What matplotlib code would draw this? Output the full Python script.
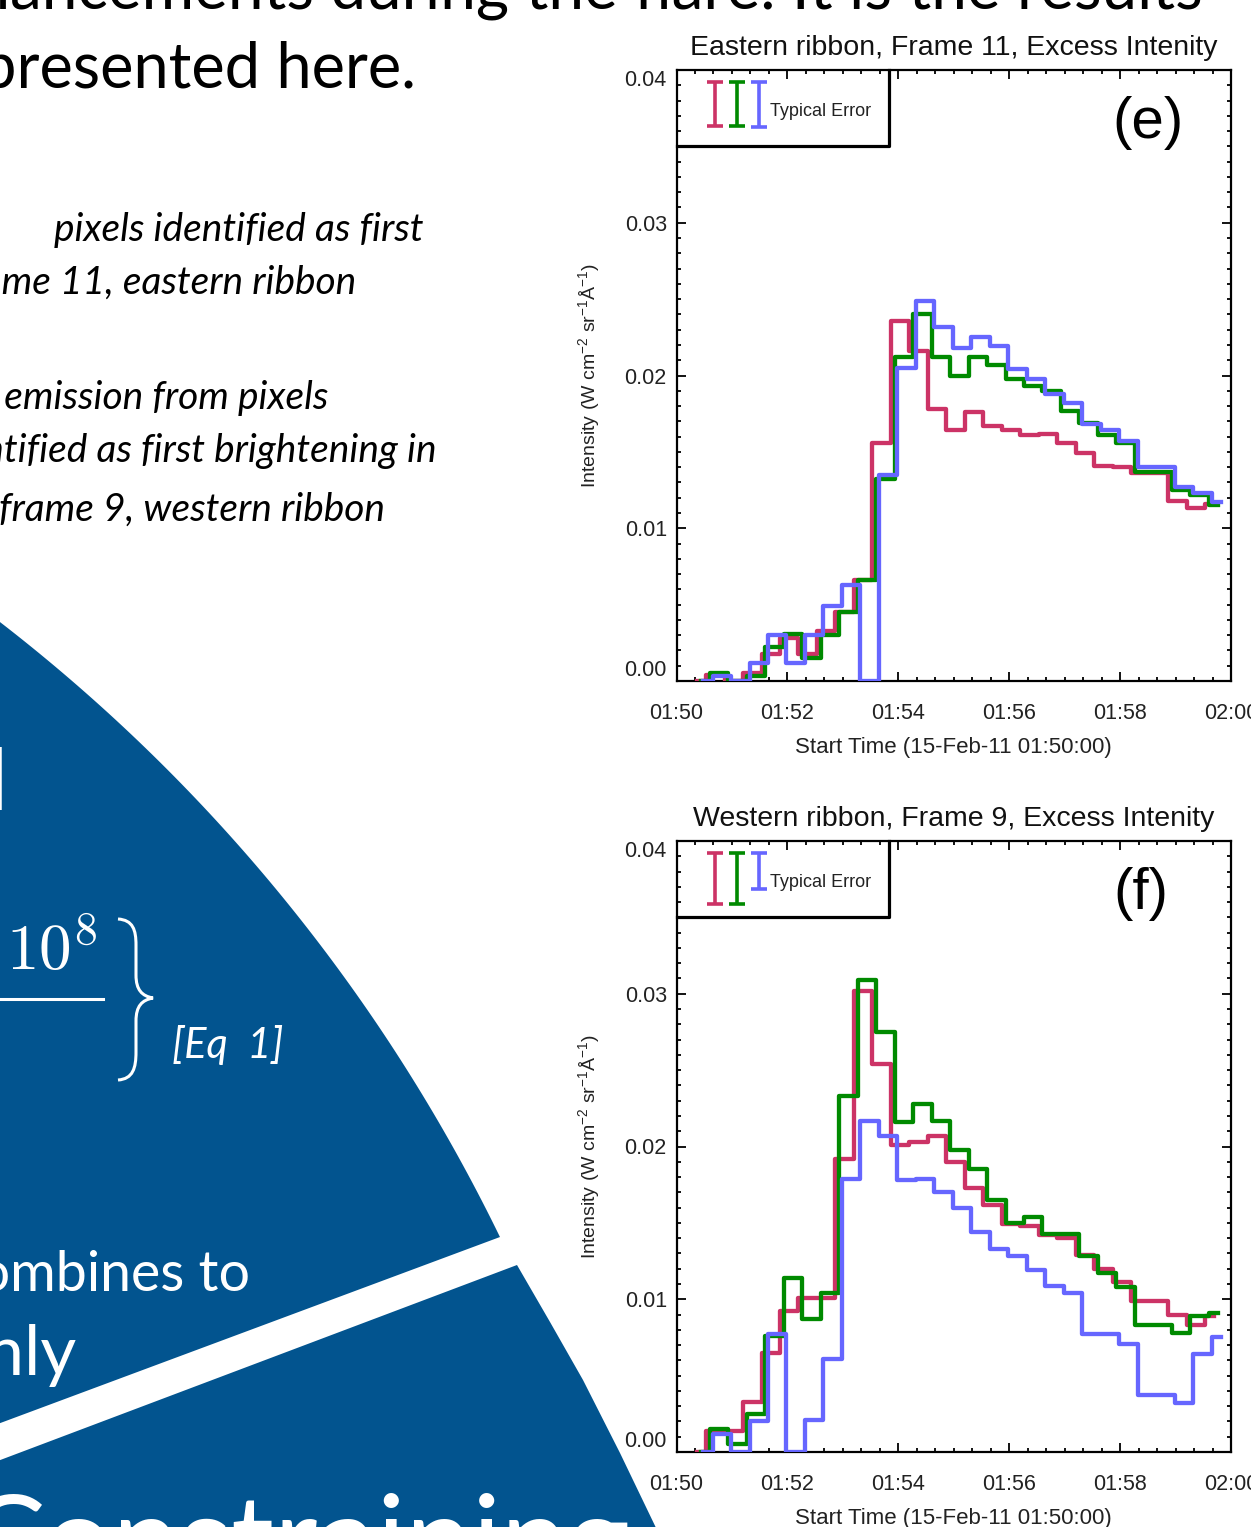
import matplotlib
matplotlib.use("Agg")
import matplotlib.pyplot as plt
import numpy as np
from matplotlib.patches import Polygon, PathPatch
from matplotlib.path import Path
from matplotlib.ticker import MultipleLocator, FuncFormatter
from matplotlib import font_manager

# sample times of the light curves, seconds after 01:50:00
sample_sec = [22, 42, 62, 82, 102, 122, 142, 162, 182, 202,
              222, 242, 262, 282, 302, 322, 342, 362, 382, 402,
              422, 442, 462, 482, 502, 522, 542, 562, 582]
# the three channels are taken a few seconds apart
chan_shift_sec = [0, 4, 7]
chan_colors = ['#CC3366', '#008A00', '#6666FF']

# (e) eastern ribbon, frame 11  (W cm-2 sr-1 A-1)
east_red = [0.0, 0.0004, 0.0, 0.0005, 0.0018, 0.0028, 0.0018, 0.0033, 0.0045, 0.0066,
            0.0156, 0.0236, 0.0216, 0.0178, 0.0164, 0.0176, 0.0167, 0.0164, 0.0161, 0.0162,
            0.0156, 0.0149, 0.0141, 0.0140, 0.0136, 0.0136, 0.0118, 0.0113, 0.0116]
east_green = [0.0, 0.00055, 0.0, 0.0003, 0.0022, 0.0031, 0.0015, 0.0030, 0.0045, 0.0066,
              0.0132, 0.0212, 0.0240, 0.0212, 0.0200, 0.0212, 0.0207, 0.0198, 0.0193, 0.0190,
              0.0177, 0.0169, 0.0161, 0.0156, 0.0137, 0.0137, 0.0125, 0.0122, 0.0115]
east_blue = [0.0, 0.0003, 0.0, 0.0012, 0.0030, 0.0012, 0.0030, 0.0049, 0.0063, 0.0,
             0.0135, 0.0205, 0.0249, 0.0232, 0.0218, 0.0225, 0.0219, 0.0204, 0.0198, 0.0188,
             0.0182, 0.0168, 0.0164, 0.0157, 0.0140, 0.0140, 0.0127, 0.0123, 0.0117]

# (f) western ribbon, frame 9
west_red = [0.0, 0.0014, 0.0014, 0.0033, 0.0065, 0.0092, 0.0101, 0.0101, 0.0192, 0.0302,
            0.0254, 0.0201, 0.0203, 0.0207, 0.0190, 0.0173, 0.0162, 0.0149, 0.0148, 0.0142,
            0.0140, 0.0129, 0.0120, 0.0111, 0.0099, 0.0099, 0.0090, 0.0083, 0.0089]
west_green = [0.0, 0.0015, 0.0005, 0.0025, 0.0076, 0.0114, 0.0087, 0.0104, 0.0233, 0.0309,
              0.0275, 0.0216, 0.0228, 0.0217, 0.0198, 0.0185, 0.0165, 0.0150, 0.0154, 0.0143,
              0.0143, 0.0128, 0.0117, 0.0108, 0.0083, 0.0083, 0.0078, 0.0089, 0.0091]
west_blue = [0.0, 0.0012, 0.0, 0.0020, 0.0077, 0.0, 0.0021, 0.0061, 0.0179, 0.0217,
             0.0207, 0.0178, 0.0179, 0.0170, 0.0160, 0.0144, 0.0133, 0.0128, 0.0119, 0.0109,
             0.0104, 0.0077, 0.0077, 0.0071, 0.0037, 0.0037, 0.0032, 0.0064, 0.0075]

# typical error (half length of the bars in the legend box)
east_err = [0.00144, 0.00144, 0.00146]
west_err = [0.00167, 0.00167, 0.00118]

names = {f.name for f in font_manager.fontManager.ttflist}
narrow = 'Liberation Sans Narrow' if 'Liberation Sans Narrow' in names else 'Liberation Sans'

plt.rcParams['font.family'] = ['Liberation Sans', 'DejaVu Sans']
plt.rcParams['mathtext.fontset'] = 'custom'
plt.rcParams['mathtext.rm'] = 'Liberation Sans'
plt.rcParams['mathtext.it'] = 'Liberation Sans:italic'

W, H = 1251, 1527
fig = plt.figure(figsize=(W / 100, H / 100), dpi=100)

# ---- poster background (pixel coordinates, y down) ----
bg = fig.add_axes([0, 0, 1, 1], zorder=0)
bg.set_xlim(0, W)
bg.set_ylim(H, 0)
bg.axis('off')

navy = '#02548F'
cx, cy, r = -1063.6, 1997.5, 1738.7
a1 = np.arctan2(622 - cy, 0 - cx)
a2 = np.arctan2(1237 - cy, 500 - cx)
ang = np.linspace(a1, a2, 80)
arc = np.column_stack([cx + r * np.cos(ang), cy + r * np.sin(ang)])
upper = np.vstack([[[-5, 622]], arc, [[500, 1237], [-5, 1425]]])
bg.add_patch(Polygon(upper, closed=True, fc=navy, ec='none'))
lower = [[517, 1265], [550, 1322], [583, 1380], [620, 1453], [658, 1532],
         [-5, 1532], [-5, 1462]]
bg.add_patch(Polygon(lower, closed=True, fc=navy, ec='none'))

big = dict(family='Lato', color='black', va='baseline', ha='right')
bg.text(1203, 8, 'enhancements during the flare. It is the results', fontsize=46, **big)
bg.text(416, 88, 'presented here.', fontsize=45.5, **big)

ital = dict(family='Lato', style='italic', color='black', va='baseline',
            ha='right', fontsize=28)
bg.text(423, 241, 'pixels identified as first', **ital)
bg.text(356, 294, 'frame 11, eastern ribbon', **ital)
bg.text(328, 409, 'Excess emission from pixels', **ital)
bg.text(437, 462, 'identified as first brightening in', **ital)
bg.text(385, 521, 'frame 9, western ribbon', **ital)

wt = dict(family='Lato', color='white', va='baseline', ha='right')
bg.text(8, 810, 'al', fontsize=62, **wt)
bg.text(97, 970, r'$10^8$', fontsize=47, math_fontfamily='cm', **wt)
bg.plot([-5, 103], [999, 999], color='white', lw=2.2)
brace = Path([(118, 919), (133, 920), (136, 930), (136, 945),
              (136, 975),
              (136, 990), (142, 996), (153, 998),
              (142, 1000), (136, 1006), (136, 1021),
              (136, 1052),
              (136, 1068), (133, 1079), (118, 1080)],
             [Path.MOVETO, Path.CURVE4, Path.CURVE4, Path.CURVE4,
              Path.LINETO,
              Path.CURVE4, Path.CURVE4, Path.CURVE4,
              Path.CURVE4, Path.CURVE4, Path.CURVE4,
              Path.LINETO,
              Path.CURVE4, Path.CURVE4, Path.CURVE4])
bg.add_patch(PathPatch(brace, fc='none', ec='white', lw=2.2))
bg.text(284, 1058, '[Eq  1]', fontsize=30, style='italic', **wt)
bg.text(250, 1291, 'combines to', fontsize=40, **wt)
bg.text(76, 1375, 'only', fontsize=50, **wt)
bg.text(630, 1580, 'Constraining', fontsize=86, **wt)


def fmt_time(m, pos):
    total = 110 + int(round(m))
    return '%02d:%02d' % (total // 60, total % 60)


def draw_panel(rect, series, errs, title, tag, tag_x):
    ax = fig.add_axes(rect, zorder=2)
    ax.set_facecolor('white')
    for vals, shift, col in zip(series, chan_shift_sec, chan_colors):
        t = [(s + shift) / 60.0 for s in sample_sec]
        ax.step(t, vals, where='mid', color=col, lw=3.1, zorder=3)

    ax.set_xlim(0, 10)
    ax.set_ylim(0, 0.04)
    ax.set_xticks([0, 2, 4, 6, 8, 10])
    ax.xaxis.set_major_formatter(FuncFormatter(fmt_time))
    ax.xaxis.set_minor_locator(MultipleLocator(1 / 3))
    ax.set_yticks([0, 0.01, 0.02, 0.03, 0.04])
    ax.set_yticklabels(['0.00', '0.01', '0.02', '0.03', '0.04'])
    ax.yaxis.set_minor_locator(MultipleLocator(0.001))
    ax.tick_params(which='both', direction='in', top=True, right=True,
                   width=1.3, colors='black', labelcolor='#222222')
    ax.tick_params(which='major', length=6.5)
    ax.tick_params(which='minor', length=3.2)
    ax.tick_params(axis='x', which='major', labelsize=15.5, pad=16)
    ax.tick_params(axis='y', which='major', labelsize=15.5, pad=7)
    ticks = ax.yaxis.get_major_ticks()
    ticks[0].label1.set_va('bottom')
    ticks[-1].label1.set_va('top')
    for sp in ax.spines.values():
        sp.set_linewidth(1.6)

    ax.set_title(title, fontsize=20.5, pad=11, color='#111111')
    ax.set_xlabel('Start Time (15-Feb-11 01:50:00)', fontsize=16, color='#222222')
    ax.xaxis.set_label_coords(0.5, -0.092)
    ax.set_ylabel(r'Intensity (W cm$^{-2}$ sr$^{-1}$Å$^{-1}$)', fontsize=14,
                  family=narrow, color='#222222')
    ax.yaxis.set_label_coords(-0.134, 0.5)

    # legend box with typical error bars
    ax.plot([0, 3.83, 3.83], [0.0350, 0.0350, 0.04], color='black', lw=2.3,
            clip_on=False, zorder=4)
    for xe, err, col in zip([0.70, 1.10, 1.48], errs, chan_colors):
        ax.errorbar([xe], [0.0392 - err], yerr=[err], fmt='none', ecolor=col,
                    elinewidth=2.6, capsize=5.5, capthick=2.6, zorder=4)
    ax.text(1.68, 0.0373, 'Typical Error', fontsize=13, va='center', ha='left',
            color='#222222')
    ax.text(tag_x, 0.913, tag, transform=ax.transAxes, fontsize=42,
            ha='center', va='center', color='black')
    return ax


left = 676.5 / W
width = 554.5 / W
height = 611 / H
draw_panel([left, 1 - 681 / H, width, height],
           [east_red, east_green, east_blue], east_err,
           'Eastern ribbon, Frame 11, Excess Intenity', '(e)', 0.85)
draw_panel([left, 1 - 1452 / H, width, height],
           [west_red, west_green, west_blue], west_err,
           'Western ribbon, Frame 9, Excess Intenity', '(f)', 0.8375)

fig.savefig('out.png', dpi=100)
